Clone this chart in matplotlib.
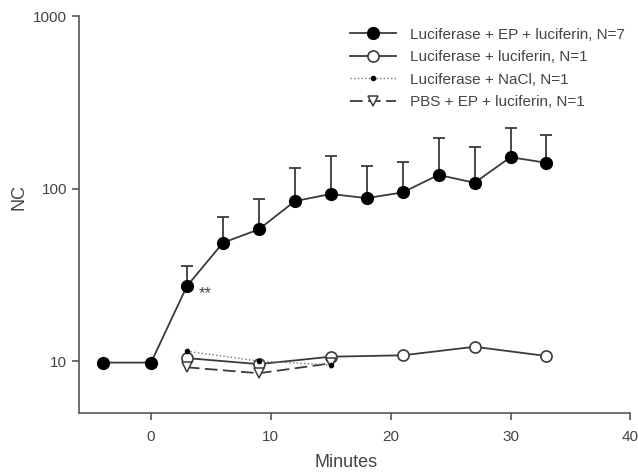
import matplotlib.pyplot as plt
import numpy as np

plt.rcParams['font.family'] = ['Liberation Sans', 'DejaVu Sans']

# Luciferase + EP + luciferin, N=7 (mean with upper SD)
ep_t = [-4, 0, 3, 6, 9, 12, 15, 18, 21, 24, 27, 30, 33]
ep_nc = [9.8, 9.8, 27.2, 48.5, 58, 84.5, 93, 88, 95, 120, 108, 152, 141]
ep_top = [9.8, 9.8, 35.5, 68, 87, 132, 154, 136, 143, 197, 173, 223, 204]

# Luciferase + luciferin, N=1
luc_t = [3, 9, 15, 21, 27, 33]
luc_nc = [10.4, 9.6, 10.6, 10.8, 12.1, 10.7]

# Luciferase + NaCl, N=1
nacl_t = [3, 9, 15]
nacl_nc = [11.4, 10.0, 9.5]

# PBS + EP + luciferin, N=1
pbs_t = [3, 9, 15]
pbs_nc = [9.2, 8.5, 9.7]

line_c = '#3a3a3a'
text_c = '#444444'

fig = plt.figure(figsize=(6.38, 4.72), dpi=100)
ax = fig.add_axes([0.124, 0.125, 0.864, 0.841])

ep_nc_a = np.array(ep_nc)
upper = np.array(ep_top) - ep_nc_a
ax.errorbar(ep_t, ep_nc, yerr=[np.zeros_like(upper), upper], fmt='none',
            ecolor=line_c, elinewidth=1.3, capsize=4.5, capthick=1.3, zorder=2)
ax.plot(ep_t, ep_nc, '-o', color=line_c, mfc='black', mec='black', ms=8.5,
        lw=1.3, label='Luciferase + EP + luciferin, N=7', zorder=3)
ax.plot(luc_t, luc_nc, '-o', color=line_c, mfc='white', mec=line_c, ms=8,
        mew=1.2, lw=1.3, label='Luciferase + luciferin, N=1', zorder=4)
ax.plot(nacl_t, nacl_nc, ':', marker='o', color='#777777', mfc='black',
        mec='black', ms=3, lw=1.0, label='Luciferase + NaCl, N=1', zorder=5)
ax.plot(pbs_t, pbs_nc, '--', marker='v', color=line_c, mfc='white',
        mec=line_c, ms=7, mew=1.1, lw=1.3, dashes=(7, 3),
        label='PBS + EP + luciferin, N=1', zorder=4)

ax.text(4.0, 24.5, '**', fontsize=12, color=text_c, ha='left', va='center')

ax.set_yscale('log')
ax.set_ylim(5, 1000)
ax.set_xlim(-6, 40)
ax.set_yticks([10, 100, 1000])
ax.set_yticklabels(['10', '100', '1000'])
ax.yaxis.set_minor_locator(plt.NullLocator())
ax.set_xticks([0, 10, 20, 30, 40])

for side in ['top', 'right']:
    ax.spines[side].set_visible(False)
for side in ['left', 'bottom']:
    ax.spines[side].set_color('#555555')
    ax.spines[side].set_linewidth(1.2)
ax.tick_params(direction='out', length=5, width=1.2, color='#555555',
               labelcolor=text_c, labelsize=11)
ax.tick_params(axis='x', pad=7)

ax.set_xlabel('Minutes', fontsize=13, color=text_c)
ax.set_ylabel('NC', fontsize=13, color=text_c)
ax.xaxis.set_label_coords(0.485, -0.103)
ax.yaxis.set_label_coords(-0.094, 0.544)

leg = ax.legend(loc='upper right', bbox_to_anchor=(1.015, 1.005), frameon=False,
                fontsize=11, handlelength=3.0, labelspacing=0.55,
                handletextpad=0.9)
for t in leg.get_texts():
    t.set_color(text_c)

fig.savefig('out.png', dpi=100)
